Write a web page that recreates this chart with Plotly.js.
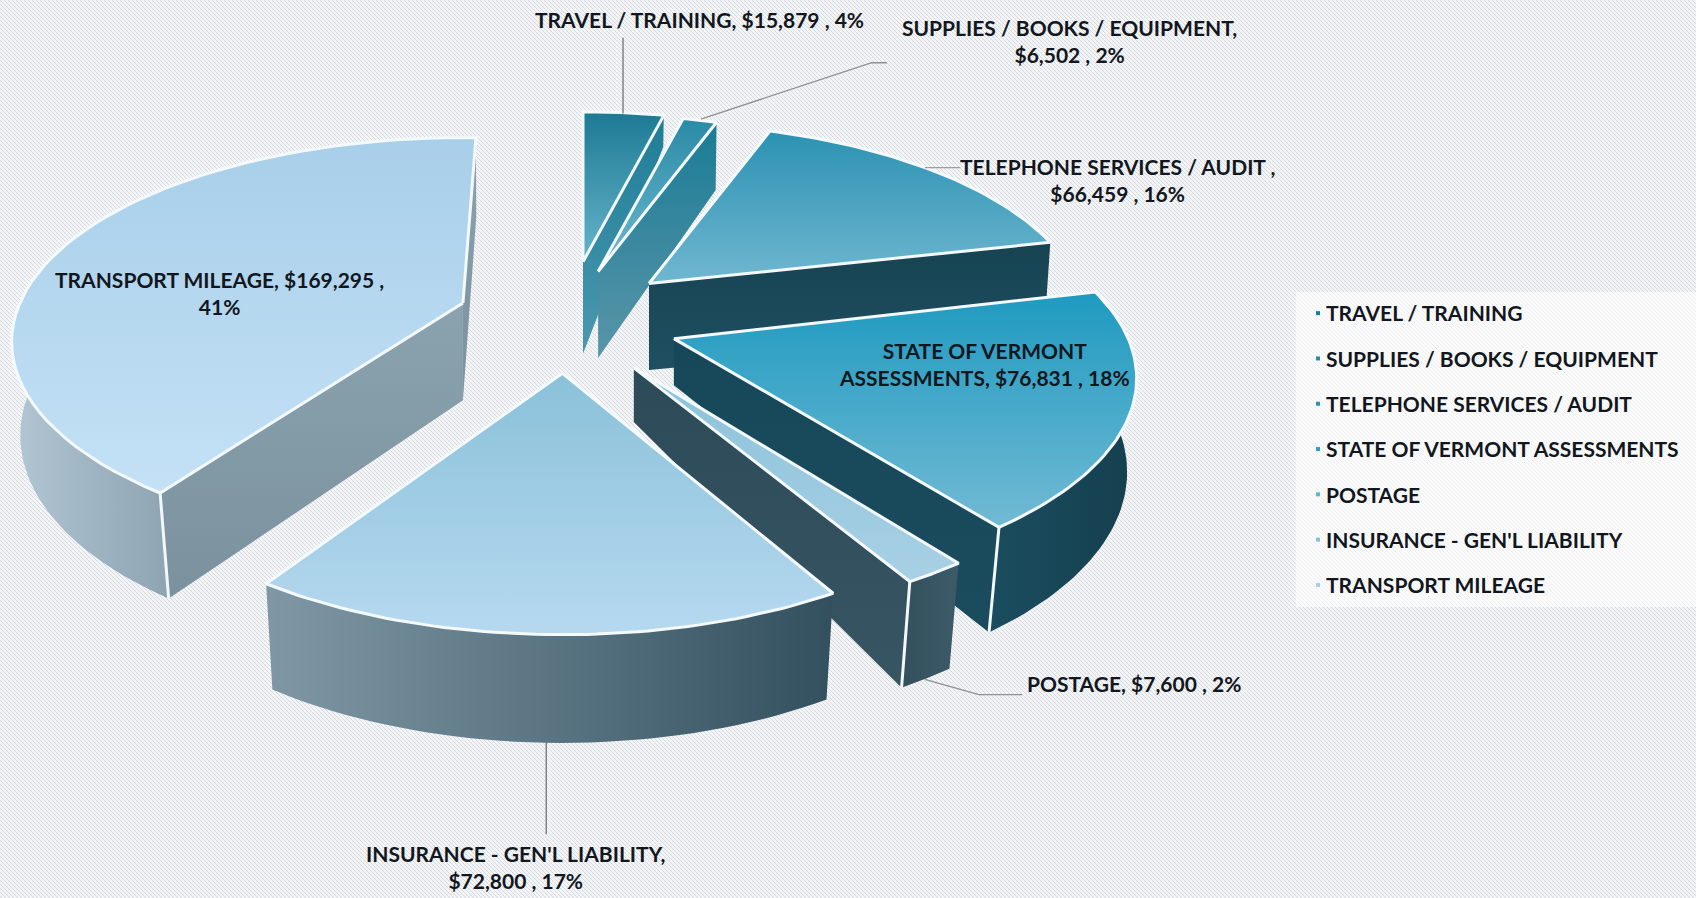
<!DOCTYPE html>
<html><head><meta charset="utf-8">
<script src="https://cdn.plot.ly/plotly-3.0.1.min.js"></script>
<style>
html,body{margin:0;padding:0;width:1696px;height:898px;overflow:hidden;background-color:#f4f5f7;
background-image:url("data:image/svg+xml,%3Csvg xmlns='http://www.w3.org/2000/svg' width='4' height='4'%3E%3Cpath d='M-1 -1L5 5M-1 3L1 5M3 -1L5 1' stroke='%23d5d8de' stroke-width='1'/%3E%3C/svg%3E");}
#c{width:1696px;height:898px}
</style></head><body><div id="c"></div>
<script>
// ---- data ----
const categories=["TRAVEL / TRAINING","SUPPLIES / BOOKS / EQUIPMENT","TELEPHONE SERVICES / AUDIT","STATE OF VERMONT ASSESSMENTS","POSTAGE","INSURANCE - GEN'L LIABILITY","TRANSPORT MILEAGE"];
const amounts=[15879,6502,66459,76831,7600,72800,169295];
const percents=["4%","2%","16%","18%","2%","17%","41%"];
const labelBreaks=["TRAVEL / TRAINING, $15,879 , 4%","SUPPLIES / BOOKS / EQUIPMENT,<br>$6,502 , 2%","TELEPHONE SERVICES / AUDIT ,<br>$66,459 , 16%","STATE OF VERMONT<br>ASSESSMENTS, $76,831 , 18%","POSTAGE, $7,600 , 2%","INSURANCE - GEN'L LIABILITY,<br>$72,800 , 17%","TRANSPORT MILEAGE, $169,295 ,<br>41%"];
// ---- 3D exploded-pie styling ----
const apexX=[539,553,600,623,586,520,428];
const apexY=[242,251,262,313,340,345,280];
const radiusK=[.89,.93,.95,1.005,1.025,1.005,.98];
const ryK=[1,1,1,1,1,1.05,1];
const spin=[0,0,0,-1,0,0,2];
const apexDepth=[85,80,80,43,50,85,90];
const rimDepthK=[.4,.85,1,1,1,1,1];
const cutsShown=[[1],[1],[1],[1],[1],[],[1,0]];
const topGrad=[["#1d7a94","#67b4cb"],["#2a8aa6","#6fbad0"],["#2b92b2","#70b7d0"],["#1e9ac0","#72bad4"],["#8bc2d9","#a8d0e5"],["#8ac1d9","#b6d9f0"],["#a8cfe9","#c4e1f6"]];
const cutGrad=[["#1f7d96","#4a98b0"],["#1a7c96","#5a95a8"],["#174352","#1f4f61"],["#16485a","#1a4c5e"],["#2c4a58","#375563"],["#334455","#334455"],["#8ba2af","#7b929e"]];
const rimGrad=[null,null,null,["#1a4d5f","#153f4f"],["#34505d","#3c5a68"],["#8098a6","#33505e"],["#b2c6d3","#8ea4b2"]];
const dotColors=["#1d7a94","#2a8aa6","#2b92b2","#2fa0c4","#5fb4cf","#8ac1d9","#a8cfe9"];
const RX=418,RY=185.5,K=.19;
const total=amounts.reduce((a,b)=>a+b,0);
function rimDepth(i,v){return (86.5-13.5*v)*rimDepthK[i];}
function topPt(i,deg){const t=deg*Math.PI/180,u=Math.sin(t),v=Math.cos(t),s=radiusK[i]/(1+K*v);
  return [apexX[i]+RX*u*s, apexY[i]-RY*ryK[i]*v*s, v];}
function low(i,p){return [p[0]+(505-p[0])*.024*(.6-.4*p[2]), p[1]+rimDepth(i,p[2])];}
const traces=[];
function poly(xs,ys,g,type,lw,lc){
  const closedX=xs.concat([xs[0]]),closedY=ys.concat([ys[0]]);
  const scale=type==='vertical'?[[0,g[1]],[1,g[0]]]:[[0,g[0]],[1,g[1]]];
  traces.push({type:'scatter',mode:'lines',x:closedX,y:closedY,fill:'toself',hoverinfo:'skip',showlegend:false,
    line:{width:lw||0,color:lc||'rgba(0,0,0,0)',shape:'linear'},
    fillgradient:{type:type,colorscale:scale}});
}
function seg(x,y,c,w){traces.push({type:'scatter',mode:'lines',x:x,y:y,hoverinfo:'skip',showlegend:false,line:{color:c,width:w}});}
let cum=0;
const order=[0,1,2,6,3,4,5];
const spans=amounts.map(a=>{const s=[cum,cum+a/total*360];cum=s[1];return s;});
order.forEach(i=>{
  const a1=spans[i][0]+spin[i],a2=spans[i][1]+spin[i];
  cutsShown[i].forEach(c=>{
    const p=topPt(i,c?a2:a1),q=low(i,p);
    poly([apexX[i],p[0],q[0],apexX[i]],[apexY[i],p[1],q[1],apexY[i]+apexDepth[i]],cutGrad[i],'vertical');
  });
  if(rimGrad[i]){
    const r1=Math.max(a1,85),r2=Math.min(a2,275),tx=[],ty=[],bx=[],by=[];
    for(let n=0;n<=40;n++){const p=topPt(i,r1+(r2-r1)*n/40),q=low(i,p);tx.push(p[0]);ty.push(p[1]);bx.unshift(q[0]);by.unshift(q[1]);}
    poly(tx.concat(bx),ty.concat(by),rimGrad[i],'horizontal');
    cutsShown[i].forEach(c=>{const a=c?a2:a1;if(a>=85&&a<=275){const p=topPt(i,a),q=low(i,p);seg([p[0],q[0]],[p[1],q[1]],'#f2f8fb',3);}});
  }
  const xs=[apexX[i]],ys=[apexY[i]];
  for(let n=0;n<=60;n++){const p=topPt(i,a1+(a2-a1)*n/60);xs.push(p[0]);ys.push(p[1]);}
  poly(xs,ys,topGrad[i],'vertical',3,'#f4f9fc');
});
categories.forEach((c,i)=>traces.push({type:'scatter',mode:'markers',x:[null],y:[null],name:c,legendgroup:'g'+i,
  marker:{size:4,symbol:'square',color:dotColors[i]},hoverinfo:'skip'}));
const grey='#6f7478';
seg([576,576],[35,105],grey,1.3);
seg([820,806,648],[58,58,110],'#8d9195',1.3);
seg([888,855],[155,155],'#9a9da0',1.3);
seg([945,905,855],[642,642,628],'#8d9195',1.3);
seg([505,505],[685,771],grey,1.3);
const lab=[[647,18],[989,38],[1033,166],[910,336],[1048,632],[477,801],[203,271]];
const annotations=labelBreaks.map((t,i)=>({x:lab[i][0],y:lab[i][1],text:t,showarrow:false,xanchor:'center',yanchor:'middle',align:'center',
  font:{family:'Lato',size:21,color:'#12171e',weight:700}}));
const layout={width:1696,height:898,margin:{l:0,r:0,t:0,b:0},paper_bgcolor:'rgba(0,0,0,0)',plot_bgcolor:'rgba(0,0,0,0)',
  xaxis:{range:[0,1568],visible:false,fixedrange:true},yaxis:{range:[830,0],visible:false,fixedrange:true},
  hovermode:false,annotations:annotations,
  shapes:[{type:'rect',xref:'x',yref:'y',x0:1198,x1:1568,y0:270,y1:561,fillcolor:'rgba(255,255,255,.62)',line:{width:0},layer:'below'}],
  showlegend:true,
  legend:{x:1286/1696,y:1-(293/898),xanchor:'left',yanchor:'top',bgcolor:'rgba(0,0,0,0)',tracegroupgap:15,
    font:{family:'Lato',size:21,color:'#12171e',weight:700},itemclick:false,itemdoubleclick:false}};
Plotly.newPlot('c',traces,layout,{displayModeBar:false,staticPlot:true}).then(()=>{
  document.querySelectorAll('.legendsymbols').forEach(g=>g.setAttribute('transform','translate(12,0)'));
});
</script></body></html>
